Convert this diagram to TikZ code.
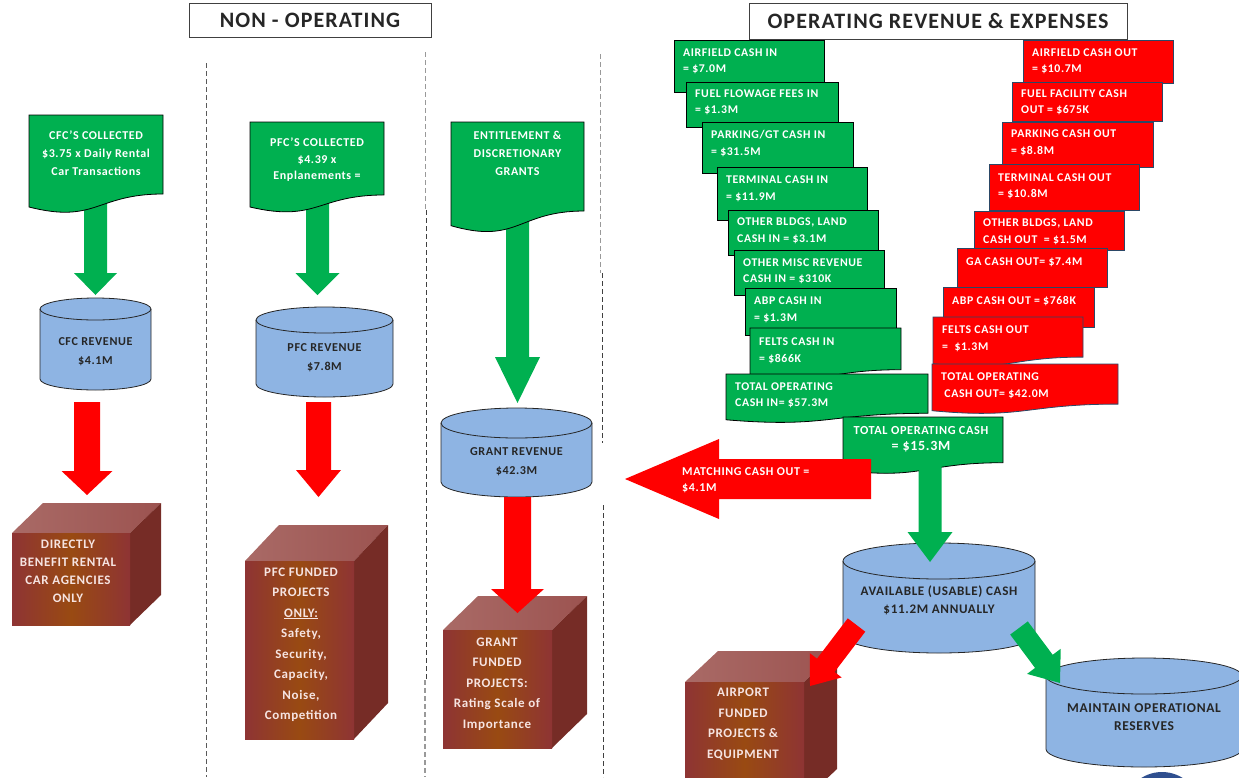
\documentclass[tikz,border=0pt]{standalone}
\usepackage{fontspec}
\setmainfont[LetterSpace=5]{Carlito}
\usetikzlibrary{calc}
\definecolor{gF}{HTML}{00B050}
\definecolor{rF}{HTML}{FF0000}
\definecolor{cylF}{HTML}{8EB4E3}
\definecolor{boxTopL}{HTML}{A96A66}
\definecolor{boxTopR}{HTML}{9C5350}
\definecolor{boxL}{HTML}{8E3434}
\definecolor{boxM}{HTML}{994A12}
\definecolor{boxR}{HTML}{762C26}
\definecolor{boxTxt}{HTML}{F6E4E2}
\definecolor{redLine}{HTML}{2B4766}
\definecolor{darkBlue}{HTML}{2F4F8F}
\tikzset{
 gbox/.style={fill=gF, draw=black, line width=0.8pt},
 rbox/.style={fill=rF, draw=redLine, line width=0.8pt},
 docbox/.style={fill=gF, draw=black, line width=0.8pt},
 stacktxt/.style={font=\fontsize{11.8}{16.5}\selectfont\bfseries, text=white, align=left, anchor=west, inner sep=0pt},
 doctxt/.style={font=\fontsize{12}{18}\selectfont\bfseries, text=white, align=center, inner sep=0pt},
 cyltxt/.style={font=\fontsize{12.1}{19}\selectfont\bfseries, text=black!85, align=center, inner sep=0pt},
 boxtxt/.style={font=\fontsize{13}{20.5}\selectfont\bfseries, text=boxTxt, align=center, inner sep=0pt},
 header/.style={draw=black!75, fill=white, line width=0.9pt, font=\fontsize{22}{26}\selectfont\bfseries, text=black!85, inner sep=0pt},
 divider/.style={dash pattern=on 5pt off 3pt, line width=0.8pt},
 cylfill/.style={fill=cylF, draw=black!85, line width=0.8pt},
}
% block arrow: #1 start, #2 tip, #3 shaft half width, #4 head half width, #5 head length, #6 fill
\newcommand{\blockarr}[6]{%
 \path ($(#2)!#5!(#1)$) coordinate (ba-h);
 \fill[#6] ($(#1)!#3!90:(#2)$) -- ($(ba-h)!#3!90:(#2)$) -- ($(ba-h)!#4!90:(#2)$) -- (#2)
   -- ($(ba-h)!#4!-90:(#2)$) -- ($(ba-h)!#3!-90:(#2)$) -- ($(#1)!#3!-90:(#2)$) -- cycle;
}
% document shape: x1 x2 ytop h style
\newcommand{\docpath}[5]{%
 \pgfmathsetmacro\dpA{#3+0.802*#4}
 \pgfmathsetmacro\dpB{#3+1.107*#4}
 \pgfmathsetmacro\dpC{#3+0.934*#4}
 \pgfmathsetmacro\dpM{(#1+#2)/2}
 \filldraw[#5] (#1,#3) -- (#2,#3) -- (#2,\dpA) .. controls (\dpM,\dpA) and (\dpM,\dpB) .. (#1,\dpC) -- cycle;
}
% cylinder: x1 x2 ytop ybot ry
\newcommand{\mycyl}[5]{%
 \pgfmathsetmacro\cyrx{(#2-#1)/2}
 \pgfmathsetmacro\cya{#3+#5}
 \pgfmathsetmacro\cyb{#4-#5}
 \filldraw[cylfill] (#1,\cya) -- (#1,\cyb) arc[start angle=180,end angle=360,x radius=\cyrx pt,y radius=#5pt]
   -- (#2,\cya) arc[start angle=0,end angle=180,x radius=\cyrx pt,y radius=#5pt] -- cycle;
 \draw[black!85, line width=0.8pt] (#1,\cya) arc[start angle=180,end angle=360,x radius=\cyrx pt,y radius=#5pt];
}
% cube: x1 x2 yfront ybottom dx dy
\newcommand{\mycube}[6]{%
 \pgfmathsetmacro\cbxa{#1+#5}
 \pgfmathsetmacro\cbxb{#2+#5}
 \pgfmathsetmacro\cbyt{#3-#6}
 \pgfmathsetmacro\cbyb{#4-#6}
 \shade[left color=boxTopL, right color=boxTopR] (#1,#3) -- (\cbxa,\cbyt) -- (\cbxb,\cbyt) -- (#2,#3) -- cycle;
 \fill[boxR] (#2,#3) -- (\cbxb,\cbyt) -- (\cbxb,\cbyb) -- (#2,#4) -- cycle;
 \shade[left color=boxL, right color=boxL, middle color=boxM] (#1,#3) rectangle (#2,#4);
}
\begin{document}
\begin{tikzpicture}[x=1pt,y=-1pt]
\useasboundingbox (0,0) rectangle (1239,777);

% headers
\node[header, minimum width=242pt, minimum height=34pt] (hNon) at (310,20) {NON - OPERATING};
\node[header, minimum width=378pt, minimum height=36pt] (hOp) at (938,21) {OPERATING REVENUE \& EXPENSES};

% dividers
\draw[divider, draw=black!65] (206,63) -- (206,777);
\draw[divider, draw=black!40] (425,52) -- (425,210);
\draw[divider, draw=black!75] (426,210) -- (426,680);
\draw[divider, draw=black!40, line width=1.2pt] (425,680) -- (425,777);
\draw[divider, draw=black!40] (600,54) -- (600,273);
\draw[divider, draw=black!75] (602,273) -- (602,443);
\draw[divider, draw=black!75] (603,505) -- (603,777);

% ---------- CFC column
\coordinate (cfcGs) at (95.5,200); \coordinate (cfcGt) at (95.5,295);
\blockarr{cfcGs}{cfcGt}{11.5pt}{21.5pt}{22pt}{gF}
\docpath{29}{163}{115}{98.5}{docbox}
\node[doctxt] (cfcDoc) at (96,153.5) {CFC'S COLLECTED\\\$3.75 x Daily Rental\\Car Transactions};
\mycyl{40}{151}{298}{390}{11}
\node[cyltxt] (cfcRev) at (95.5,351.5) {CFC REVENUE\\\$4.1M};
\coordinate (cfcRs) at (87,402); \coordinate (cfcRt) at (87,495);
\blockarr{cfcRs}{cfcRt}{13pt}{25.5pt}{24pt}{rF}
\mycube{12}{130}{533}{625}{31}{30}
\node[boxtxt, font=\fontsize{13}{18}\selectfont\bfseries] (cfcBox) at (68,571) {DIRECTLY\\BENEFIT RENTAL\\CAR AGENCIES\\ONLY};

% ---------- PFC column
\coordinate (pfcGs) at (317.5,200); \coordinate (pfcGt) at (317.5,295);
\blockarr{pfcGs}{pfcGt}{11.5pt}{22pt}{22pt}{gF}
\docpath{250}{384}{122}{91}{docbox}
\node[doctxt, font=\fontsize{12}{16.5}\selectfont\bfseries] (pfcDoc) at (317,160) {PFC'S COLLECTED\\\$4.39 x\\Enplanements =};
\mycyl{256}{393}{307}{397}{13}
\node[cyltxt] (pfcRev) at (324.5,357.5) {PFC REVENUE\\\$7.8M};
\coordinate (pfcRs) at (318.5,402); \coordinate (pfcRt) at (318.5,497);
\blockarr{pfcRs}{pfcRt}{12.5pt}{22.5pt}{27pt}{rF}
\mycube{245}{354}{561}{739}{34}{36}
\node[boxtxt] (pfcBox) at (301,644.5) {PFC FUNDED\\PROJECTS\\\underline{ONLY:}\\Safety,\\Security,\\Capacity,\\Noise,\\Competition};

% ---------- Grants column
\coordinate (grGs) at (517.5,215); \coordinate (grGt) at (517.5,403);
\blockarr{grGs}{grGt}{11.5pt}{22.5pt}{46pt}{gF}
\docpath{451}{584}{122}{111}{docbox}
\node[doctxt] (grDoc) at (517.5,153.5) {ENTITLEMENT \&\\DISCRETIONARY\\GRANTS};
\mycyl{441}{592}{408}{497}{15}
\node[cyltxt] (grRev) at (516.5,461.5) {GRANT REVENUE\\\$42.3M};
\mycube{443}{552}{630}{748}{35}{34}
\node[boxtxt] (grBox) at (497,684) {GRANT\\FUNDED\\PROJECTS:\\Rating Scale of\\Importance};
\coordinate (grRs) at (517.5,497); \coordinate (grRt) at (517.5,613);
\blockarr{grRs}{grRt}{13.5pt}{26.5pt}{24pt}{rF}

% ---------- green stack
\filldraw[gbox] (674,40) rectangle (824,92);
\node[stacktxt] (g1) at (683,61.5) {AIRFIELD CASH IN\\= \$7.0M};
\filldraw[gbox] (686,82) rectangle (838,127);
\node[stacktxt] (g2) at (695,102.5) {FUEL FLOWAGE FEES IN\\= \$1.3M};
\filldraw[gbox] (702,122) rectangle (853,173);
\node[stacktxt] (g3) at (711,143.5) {PARKING/GT CASH IN\\= \$31.5M};
\filldraw[gbox] (717,167) rectangle (867,220);
\node[stacktxt] (g4) at (726,189) {TERMINAL CASH IN\\= \$11.9M};
\filldraw[gbox] (728,210) rectangle (878,255);
\node[stacktxt] (g5) at (737,231) {OTHER BLDGS, LAND\\CASH IN = \$3.1M};
\filldraw[gbox] (734,250) rectangle (884,295);
\node[stacktxt] (g6) at (743,271.5) {OTHER MISC REVENUE\\CASH IN = \$310K};
\filldraw[gbox] (745,288) rectangle (896,335);
\node[stacktxt] (g7) at (754,310) {ABP CASH IN\\= \$1.3M};
\docpath{750}{901}{328}{52}{gbox}
\node[stacktxt] (g8) at (759,351) {FELTS CASH IN\\= \$866K};
\docpath{726}{928}{374}{49}{gbox}
\node[stacktxt] (g9) at (735,395.5) {TOTAL OPERATING\\CASH IN= \$57.3M};

% ---------- red stack
\filldraw[rbox] (1023,40) rectangle (1173,83);
\node[stacktxt] (r1) at (1032,61.5) {AIRFIELD CASH OUT\\= \$10.7M};
\filldraw[rbox] (1012,82) rectangle (1162,121);
\node[stacktxt] (r2) at (1021,102.5) {FUEL FACILITY CASH\\OUT = \$675K};
\filldraw[rbox] (1002,122) rectangle (1153,167);
\node[stacktxt] (r3) at (1011,143) {PARKING CASH OUT\\= \$8.8M};
\filldraw[rbox] (989,164) rectangle (1139,210);
\node[stacktxt] (r4) at (998,186.5) {TERMINAL CASH OUT\\= \$10.8M};
\filldraw[rbox] (974,211) rectangle (1124,250);
\node[stacktxt] (r5) at (983,232) {OTHER BLDGS, LAND\\CASH OUT \ = \$1.5M};
\filldraw[rbox] (957,248) rectangle (1107,287);
\node[stacktxt] (r6) at (966,262) {GA CASH OUT= \$7.4M};
\filldraw[rbox] (943,287) rectangle (1094,327);
\node[stacktxt] (r7) at (952,301) {ABP CASH OUT = \$768K};
\docpath{933}{1083}{317}{50}{rbox}
\node[stacktxt] (r8) at (942,339) {FELTS CASH OUT\\= \ \$1.3M};
\docpath{932}{1118}{364}{50}{rbox}
\node[stacktxt] (r9) at (941,386) {TOTAL OPERATING\\\ CASH OUT= \$42.0M};

% ---------- total operating cash
\docpath{843}{1003}{417}{57}{gbox}
\node[stacktxt, font=\fontsize{12.3}{16.5}\selectfont\bfseries, anchor=center, align=center] (tot) at (921,439) {TOTAL OPERATING CASH\\{\fontsize{14}{16}\selectfont = \$15.3M}};

% ---------- available cash and beyond
\mycyl{843}{1035}{543}{653}{18}
\node[cyltxt, font=\fontsize{13.1}{18}\selectfont\bfseries] (avail) at (939,600) {AVAILABLE (USABLE) CASH\\\$11.2M ANNUALLY};
\coordinate (totGs) at (930,455); \coordinate (totGt) at (930,562);
\blockarr{totGs}{totGt}{11.5pt}{22.5pt}{30pt}{gF}

\coordinate (matS) at (871,479); \coordinate (matT) at (625,479);
\blockarr{matS}{matT}{20pt}{40pt}{94pt}{rF}
\node[stacktxt, font=\fontsize{12}{16.5}\selectfont\bfseries] (match) at (682,480) {MATCHING CASH OUT =\\\$4.1M};

\fill[darkBlue] (1162,805) ellipse [x radius=36pt, y radius=33pt];
\mycyl{1046}{1242}{658}{767}{18}
\node[cyltxt, font=\fontsize{13.5}{18}\selectfont\bfseries] (maint) at (1144,717) {MAINTAIN OPERATIONAL\\RESERVES};

\mycube{685}{804}{682}{800}{33}{31}
\node[boxtxt] (airBox) at (743,724) {AIRPORT\\FUNDED\\PROJECTS \&\\EQUIPMENT};

\coordinate (dRs) at (856.5,625); \coordinate (dRt) at (810,686);
\blockarr{dRs}{dRt}{11pt}{20pt}{26pt}{rF}
\coordinate (dGs) at (1019,628); \coordinate (dGt) at (1060,683);
\blockarr{dGs}{dGt}{11pt}{21pt}{27pt}{gF}
\end{tikzpicture}
\end{document}
